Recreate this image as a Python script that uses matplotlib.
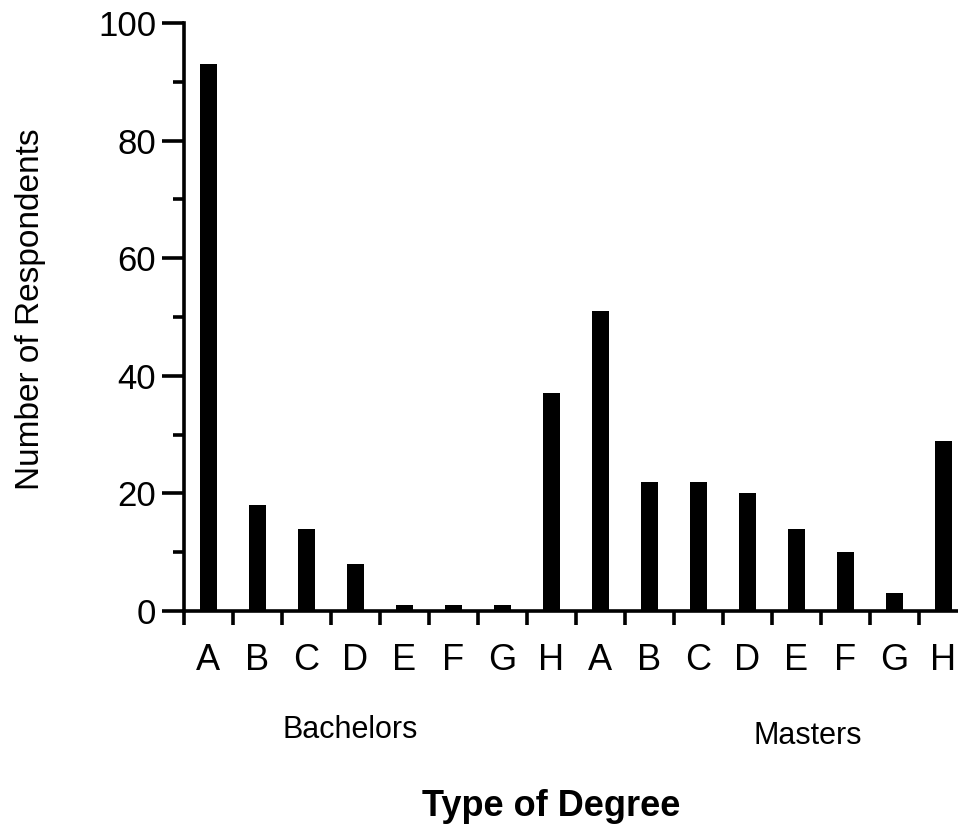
import matplotlib.pyplot as plt
import numpy as np

# Data

letters = ["A", "B", "C", "D", "E", "F", "G", "H"]
bachelors = [93, 18, 14, 8, 1, 1, 1, 37]
masters = [51, 22, 22, 20, 14, 10, 3, 29]

plt.rcParams['font.family'] = ['Liberation Sans', 'DejaVu Sans']

values = bachelors + masters
labels = letters + letters
points = np.arange(len(values))

fig = plt.figure(figsize=(9.58, 8.31), dpi=100)
ax = fig.add_axes([0.192, 0.2647, 0.8081, 0.7076])

ax.bar(points, values, width=0.35, color='black')

# Axes limits and spines

ax.set_xlim(-0.5, 15.3)
ax.set_ylim(0, 100)
for side in ['top', 'right']:
    ax.spines[side].set_visible(False)
for side in ['left', 'bottom']:
    ax.spines[side].set_linewidth(2.6)

# Y ticks

ax.set_yticks(np.arange(0, 101, 20))
ax.set_yticks(np.arange(10, 100, 20), minor=True)
ax.tick_params(axis='y', which='major', length=16, width=2.6, labelsize=25, pad=4)
ax.tick_params(axis='y', which='minor', length=8, width=2.6)

# X ticks: letters at bar centres, marks between bars

ax.set_xticks(points)
ax.set_xticklabels(labels)
ax.set_xticks(np.arange(-0.5, 15.0, 1), minor=True)
ax.tick_params(axis='x', which='major', length=0, labelsize=26, pad=23)
ax.tick_params(axis='x', which='minor', length=10, width=2.6)

ax.set_ylabel("Number of Respondents", fontsize=24)
ax.yaxis.set_label_coords(-0.178, 0.514)

# Group labels and axis title

fig.text(350 / 958, 1 - 730 / 831, "Bachelors", fontsize=22, ha='center', va='center')
fig.text(808 / 958, 1 - 736 / 831, "Masters", fontsize=22, ha='center', va='center')
fig.text(551 / 958, 1 - 806 / 831, "Type of Degree", fontsize=26, fontweight='bold',
         ha='center', va='center')

fig.savefig("out.png", dpi=100)
